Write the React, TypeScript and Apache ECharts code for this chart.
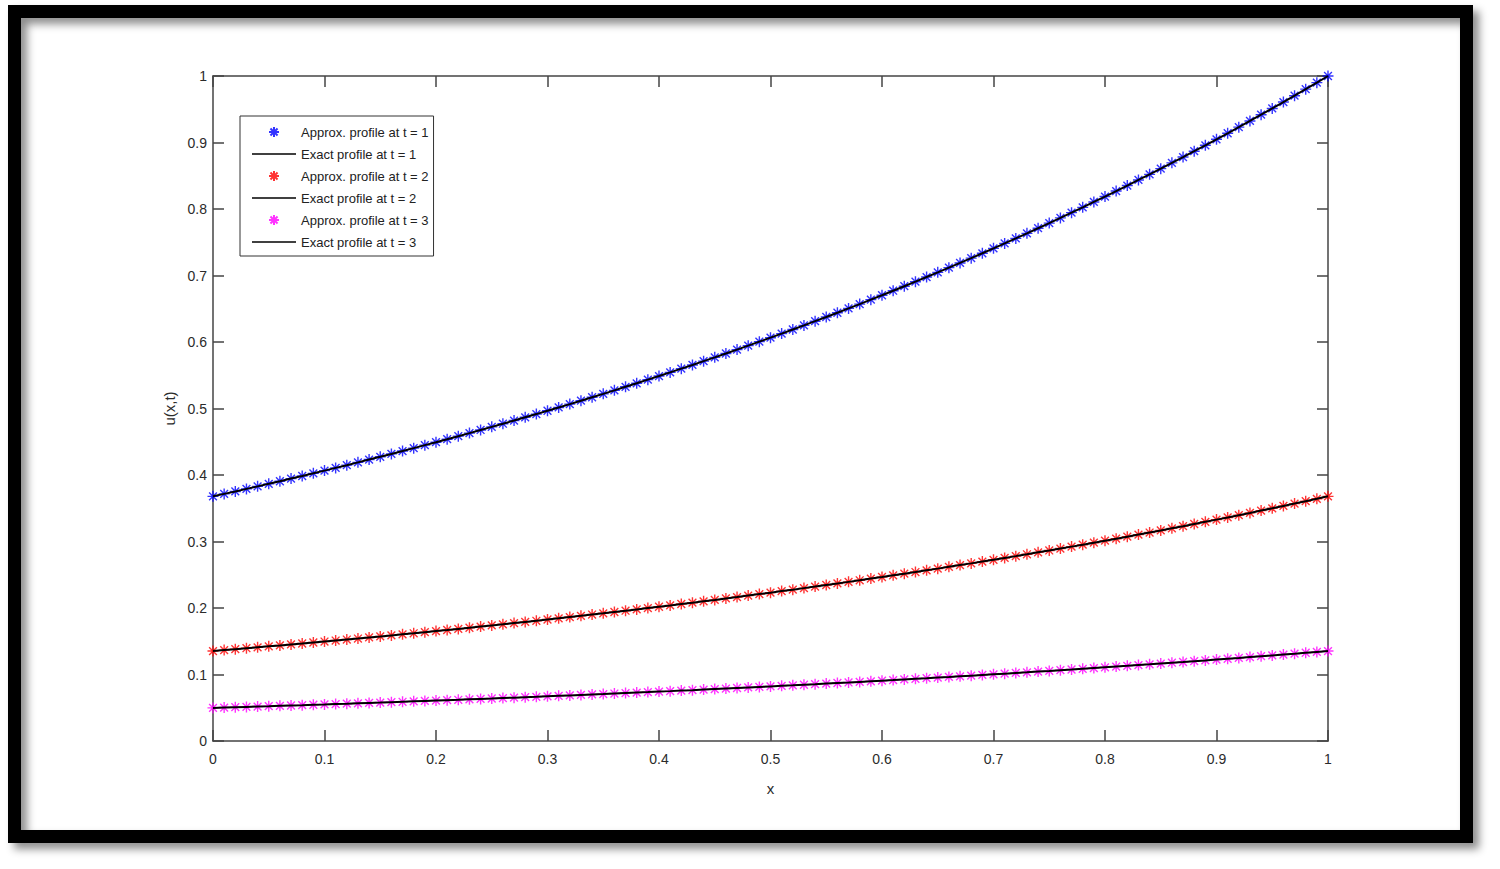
import { useEffect, useRef } from 'react'
import * as echarts from 'echarts'

// grid points x = 0 : 0.01 : 1
const xs = [
  0, 0.01, 0.02, 0.03, 0.04, 0.05, 0.06, 0.07, 0.08, 0.09,
  0.1, 0.11, 0.12, 0.13, 0.14, 0.15, 0.16, 0.17, 0.18, 0.19,
  0.2, 0.21, 0.22, 0.23, 0.24, 0.25, 0.26, 0.27, 0.28, 0.29,
  0.3, 0.31, 0.32, 0.33, 0.34, 0.35, 0.36, 0.37, 0.38, 0.39,
  0.4, 0.41, 0.42, 0.43, 0.44, 0.45, 0.46, 0.47, 0.48, 0.49,
  0.5, 0.51, 0.52, 0.53, 0.54, 0.55, 0.56, 0.57, 0.58, 0.59,
  0.6, 0.61, 0.62, 0.63, 0.64, 0.65, 0.66, 0.67, 0.68, 0.69,
  0.7, 0.71, 0.72, 0.73, 0.74, 0.75, 0.76, 0.77, 0.78, 0.79,
  0.8, 0.81, 0.82, 0.83, 0.84, 0.85, 0.86, 0.87, 0.88, 0.89,
  0.9, 0.91, 0.92, 0.93, 0.94, 0.95, 0.96, 0.97, 0.98, 0.99,
  1,
]

// profile at t = 1
const u1 = [
  0.3679, 0.3716, 0.3753, 0.3791, 0.3829, 0.3867, 0.3906, 0.3946, 0.3985, 0.4025,
  0.4066, 0.4107, 0.4148, 0.419, 0.4232, 0.4274, 0.4317, 0.436, 0.4404, 0.4449,
  0.4493, 0.4538, 0.4584, 0.463, 0.4677, 0.4724, 0.4771, 0.4819, 0.4868, 0.4916,
  0.4966, 0.5016, 0.5066, 0.5117, 0.5169, 0.522, 0.5273, 0.5326, 0.5379, 0.5434,
  0.5488, 0.5543, 0.5599, 0.5655, 0.5712, 0.5769, 0.5827, 0.5886, 0.5945, 0.6005,
  0.6065, 0.6126, 0.6188, 0.625, 0.6313, 0.6376, 0.644, 0.6505, 0.657, 0.6637,
  0.6703, 0.6771, 0.6839, 0.6907, 0.6977, 0.7047, 0.7118, 0.7189, 0.7261, 0.7334,
  0.7408, 0.7483, 0.7558, 0.7634, 0.7711, 0.7788, 0.7866, 0.7945, 0.8025, 0.8106,
  0.8187, 0.827, 0.8353, 0.8437, 0.8521, 0.8607, 0.8694, 0.8781, 0.8869, 0.8958,
  0.9048, 0.9139, 0.9231, 0.9324, 0.9418, 0.9512, 0.9608, 0.9704, 0.9802, 0.99,
  1.0,
]

// profile at t = 2
const u2 = [
  0.1353, 0.1367, 0.1381, 0.1395, 0.1409, 0.1423, 0.1437, 0.1452, 0.1466, 0.1481,
  0.1496, 0.1511, 0.1526, 0.1541, 0.1557, 0.1572, 0.1588, 0.1604, 0.162, 0.1637,
  0.1653, 0.1669, 0.1686, 0.1703, 0.1721, 0.1738, 0.1755, 0.1773, 0.1791, 0.1808,
  0.1827, 0.1845, 0.1864, 0.1882, 0.1902, 0.192, 0.194, 0.1959, 0.1979, 0.1999,
  0.2019, 0.2039, 0.206, 0.208, 0.2101, 0.2122, 0.2144, 0.2165, 0.2187, 0.2209,
  0.2231, 0.2254, 0.2276, 0.2299, 0.2322, 0.2346, 0.2369, 0.2393, 0.2417, 0.2442,
  0.2466, 0.2491, 0.2516, 0.2541, 0.2567, 0.2592, 0.2619, 0.2645, 0.2671, 0.2698,
  0.2725, 0.2753, 0.278, 0.2808, 0.2837, 0.2865, 0.2894, 0.2923, 0.2952, 0.2982,
  0.3012, 0.3042, 0.3073, 0.3104, 0.3135, 0.3166, 0.3198, 0.323, 0.3263, 0.3296,
  0.3329, 0.3362, 0.3396, 0.343, 0.3465, 0.3499, 0.3535, 0.357, 0.3606, 0.3642,
  0.3679,
]

// profile at t = 3
const u3 = [
  0.0498, 0.0503, 0.0508, 0.0513, 0.0518, 0.0523, 0.0529, 0.0534, 0.0539, 0.0545,
  0.055, 0.0556, 0.0561, 0.0567, 0.0573, 0.0578, 0.0584, 0.059, 0.0596, 0.0602,
  0.0608, 0.0614, 0.062, 0.0627, 0.0633, 0.0639, 0.0646, 0.0652, 0.0659, 0.0665,
  0.0672, 0.0679, 0.0686, 0.0693, 0.07, 0.0706, 0.0714, 0.0721, 0.0728, 0.0735,
  0.0743, 0.075, 0.0758, 0.0765, 0.0773, 0.0781, 0.0789, 0.0797, 0.0805, 0.0813,
  0.0821, 0.0829, 0.0837, 0.0846, 0.0854, 0.0863, 0.0872, 0.088, 0.0889, 0.0898,
  0.0907, 0.0916, 0.0926, 0.0935, 0.0944, 0.0954, 0.0963, 0.0973, 0.0983, 0.0993,
  0.1003, 0.1013, 0.1023, 0.1033, 0.1044, 0.1054, 0.1065, 0.1075, 0.1086, 0.1097,
  0.1108, 0.1119, 0.113, 0.1142, 0.1153, 0.1165, 0.1177, 0.1188, 0.12, 0.1212,
  0.1225, 0.1237, 0.1249, 0.1262, 0.1275, 0.1287, 0.13, 0.1313, 0.1327, 0.134,
  0.1353,
]

const profiles = [
  { t: 1, values: u1, color: '#0000ff' },
  { t: 2, values: u2, color: '#ff0000' },
  { t: 3, values: u3, color: '#ff00ff' },
]

const ASTERISK = 'path://M5,0L5,10M0,5L10,5M1.46,1.46L8.54,8.54M1.46,8.54L8.54,1.46'
const LINE_ICON = 'path://M0,0L44,0L44,1.6L0,1.6Z'
const AXIS_COLOR = '#444'
const TEXT_COLOR = '#2b2b2b'
const FONT = 'Liberation Sans, Arial, sans-serif'

function App() {
  const chartRef = useRef<HTMLDivElement>(null)

  useEffect(() => {
    if (!chartRef.current) return
    const chart = echarts.init(chartRef.current, undefined, { renderer: 'svg' })

    const series: echarts.SeriesOption[] = []
    const legendData: any[] = []
    profiles.forEach(p => {
      const pts = xs.map((x, i) => [x, p.values[i]])
      const approxName = `Approx. profile at t = ${p.t}`
      const exactName = `Exact profile at t = ${p.t}`
      series.push({
        name: approxName,
        type: 'scatter',
        data: pts,
        symbol: ASTERISK,
        symbolSize: 11,
        itemStyle: { color: p.color, borderColor: p.color, borderWidth: 1.4 },
        z: 2,
      })
      series.push({
        name: exactName,
        type: 'line',
        data: pts,
        symbol: 'none',
        lineStyle: { color: '#000', width: 2 },
        itemStyle: { color: '#000' },
        z: 3,
      })
      legendData.push({ name: approxName, icon: ASTERISK })
      legendData.push({ name: exactName, icon: LINE_ICON, itemStyle: { color: '#000', borderWidth: 0 } })
    })

    const tickAxis = {
      min: 0,
      max: 1,
      interval: 0.1,
      axisLine: { show: true, onZero: false, lineStyle: { color: AXIS_COLOR, width: 1.5 } },
      axisTick: { show: true, inside: true, length: 11, lineStyle: { color: AXIS_COLOR, width: 1.5 } },
      splitLine: { show: false },
    }

    chart.setOption({
      animation: false,
      backgroundColor: '#ffffff',
      textStyle: { fontFamily: FONT },
      graphic: [
        {
          type: 'rect',
          shape: { x: 14.5, y: 11.5, width: 1452, height: 825 },
          style: {
            fill: 'none',
            stroke: '#000',
            lineWidth: 13,
            shadowBlur: 8,
            shadowOffsetX: 6,
            shadowOffsetY: 6,
            shadowColor: 'rgba(0,0,0,0.45)',
          },
          z: 0,
        },
      ],
      grid: { left: 213, right: 172, top: 76, bottom: 128 },
      legend: {
        orient: 'vertical',
        left: 240,
        top: 116,
        data: legendData,
        itemWidth: 44,
        itemHeight: 10,
        itemGap: 6,
        padding: [8, 5, 6, 12],
        borderColor: '#333',
        borderWidth: 1,
        backgroundColor: '#fff',
        textStyle: { fontFamily: FONT, fontSize: 13, color: '#222', lineHeight: 16 },
      },
      xAxis: [
        {
          type: 'value',
          position: 'bottom',
          ...tickAxis,
          name: 'x',
          nameLocation: 'middle',
          nameGap: 40,
          nameTextStyle: { fontFamily: FONT, fontSize: 15, color: TEXT_COLOR },
          axisLabel: { fontFamily: FONT, fontSize: 14, color: TEXT_COLOR, margin: 11 },
        },
        {
          type: 'value',
          position: 'top',
          ...tickAxis,
          axisLabel: { show: false },
        },
      ],
      yAxis: [
        {
          type: 'value',
          position: 'left',
          ...tickAxis,
          name: 'u(x,t)',
          nameLocation: 'middle',
          nameGap: 32,
          nameTextStyle: { fontFamily: FONT, fontSize: 15, color: TEXT_COLOR },
          axisLabel: { fontFamily: FONT, fontSize: 14, color: TEXT_COLOR, margin: 6 },
        },
        {
          type: 'value',
          position: 'right',
          ...tickAxis,
          axisLabel: { show: false },
        },
      ],
      series,
    })

    return () => {
      chart.dispose()
    }
  }, [])

  return (
    <div
      ref={chartRef}
      style={{ position: 'absolute', left: 0, top: 0, width: 1500, height: 869 }}
    />
  )
}

export default App
